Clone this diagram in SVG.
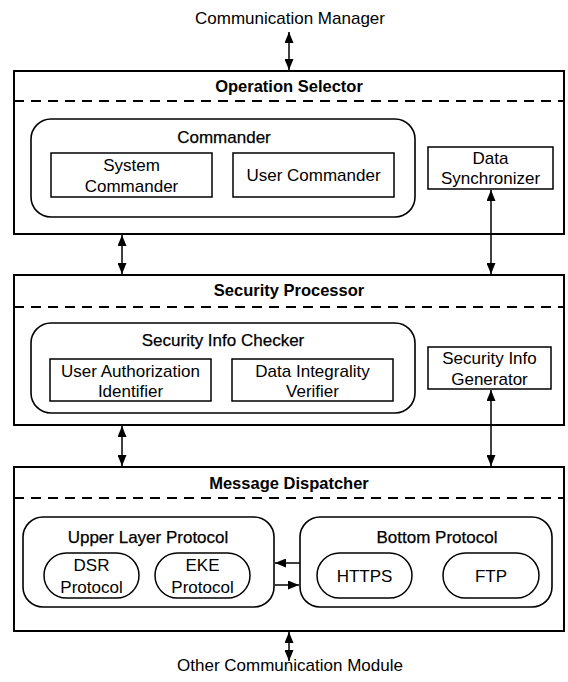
<svg xmlns="http://www.w3.org/2000/svg" width="568" height="682" viewBox="0 0 568 682">
<defs>
<marker id="ah" viewBox="0 0 11 9" refX="11" refY="4.5" markerWidth="11" markerHeight="9" markerUnits="userSpaceOnUse" orient="auto-start-reverse">
<path d="M0,0 L11,4.5 L0,9 z" fill="#000"/>
</marker>
<style>
text{font-family:"Liberation Sans",Arial,sans-serif;font-size:17px;fill:#000;text-anchor:middle}
.t{font-weight:bold;font-size:16.5px}
.m{stroke:#000;stroke-width:0.25}
.outer{fill:#fff;stroke:#000;stroke-width:2}
.dash{stroke:#000;stroke-width:2;stroke-dasharray:10 7;fill:none}
.grp{fill:none;stroke:#000;stroke-width:1.6}
.box{fill:none;stroke:#000;stroke-width:1.5}
.arr{stroke:#000;stroke-width:1.5;fill:none;marker-start:url(#ah);marker-end:url(#ah)}
.arr1{stroke:#000;stroke-width:1.5;fill:none;marker-end:url(#ah)}
</style>
</defs>
<rect width="568" height="682" fill="#fff"/>

<g id="communication-manager"><text x="290" y="24">Communication Manager</text></g>
<g id="other-communication-module"><text x="290" y="671">Other Communication Module</text></g>

<g id="operation-selector">
<rect class="outer" x="14" y="71" width="550" height="163"/>
<line class="dash" x1="14" y1="101" x2="564" y2="101"/>
<text class="t" x="289" y="92">Operation Selector</text>
</g>
<g id="commander">
<rect class="grp" x="31" y="119" width="384" height="98" rx="20"/>
<text class="m" x="224" y="143">Commander</text>
</g>
<g id="system-commander">
<rect class="box" x="51" y="153" width="161" height="44"/>
<text x="131.5" y="171">System</text><text x="131.5" y="192">Commander</text>
</g>
<g id="user-commander">
<rect class="box" x="233" y="153" width="161" height="44"/>
<text x="313.5" y="181">User Commander</text>
</g>
<g id="data-synchronizer">
<rect class="box" x="428" y="147" width="125" height="42"/>
<text x="490.5" y="164">Data</text><text x="490.5" y="184">Synchronizer</text>
</g>

<g id="security-processor">
<rect class="outer" x="14" y="275" width="550" height="150"/>
<line class="dash" x1="14" y1="307" x2="564" y2="307"/>
<text class="t" x="289" y="296">Security Processor</text>
</g>
<g id="security-info-checker">
<rect class="grp" x="31" y="323" width="384" height="90" rx="20"/>
<text class="m" x="223" y="346">Security Info Checker</text>
</g>
<g id="user-authorization-identifier">
<rect class="box" x="50" y="359" width="161" height="42"/>
<text x="130.5" y="377">User Authorization</text><text x="130.5" y="397">Identifier</text>
</g>
<g id="data-integrality-verifier">
<rect class="box" x="232" y="359" width="161" height="42"/>
<text x="312.5" y="377">Data Integrality</text><text x="312.5" y="397">Verifier</text>
</g>
<g id="security-info-generator">
<rect class="box" x="428" y="347" width="123" height="42"/>
<text x="489.5" y="364">Security Info</text><text x="489.5" y="385">Generator</text>
</g>

<g id="message-dispatcher">
<rect class="outer" x="14" y="467" width="550" height="164"/>
<line class="dash" x1="14" y1="498" x2="564" y2="498"/>
<text class="t" x="289" y="489">Message Dispatcher</text>
</g>
<g id="upper-layer-protocol">
<rect class="grp" x="23" y="517" width="251" height="90" rx="20"/>
<text class="m" x="148" y="543">Upper Layer Protocol</text>
</g>
<g id="dsr-protocol">
<rect class="box" x="44" y="553" width="95" height="45" rx="22.5"/>
<text x="91.5" y="571">DSR</text><text x="91.5" y="593">Protocol</text>
</g>
<g id="eke-protocol">
<rect class="box" x="155" y="553" width="95" height="45" rx="22.5"/>
<text x="202.5" y="571">EKE</text><text x="202.5" y="593">Protocol</text>
</g>
<g id="bottom-protocol">
<rect class="grp" x="300" y="517" width="252" height="90" rx="20"/>
<text class="m" x="437" y="543">Bottom Protocol</text>
</g>
<g id="https">
<rect class="box" x="317" y="553" width="95" height="45" rx="22.5"/>
<text x="364.5" y="582">HTTPS</text>
</g>
<g id="ftp">
<rect class="box" x="443" y="553" width="96" height="45" rx="22.5"/>
<text x="491" y="582">FTP</text>
</g>

<g id="connectors">
<line class="arr" x1="289" y1="32" x2="289" y2="70"/>
<line class="arr" x1="122" y1="235" x2="122" y2="274"/>
<line class="arr" x1="491" y1="190" x2="491" y2="274"/>
<line class="arr" x1="122" y1="426" x2="122" y2="466"/>
<line class="arr" x1="491" y1="390" x2="491" y2="466"/>
<line class="arr" x1="289" y1="632" x2="289" y2="661"/>
<line class="arr1" x1="300" y1="563" x2="275" y2="563"/>
<line class="arr1" x1="275" y1="585" x2="299" y2="585"/>
</g>
</svg>
